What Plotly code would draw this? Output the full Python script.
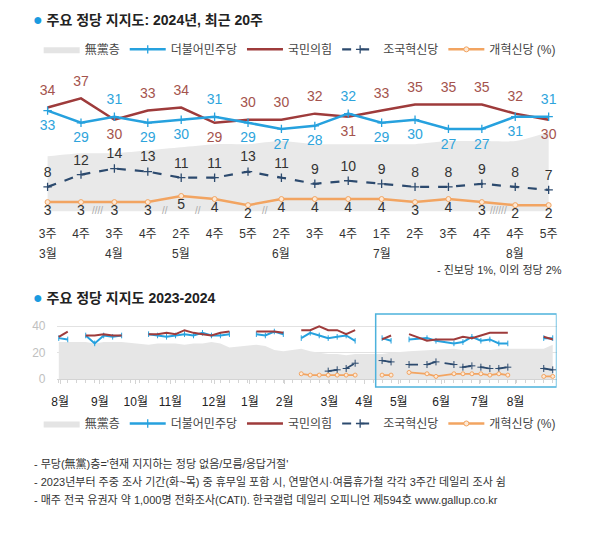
import plotly.graph_objects as go

# ---------------- DATA ----------------
# Top chart: recent survey weeks of 2024
week_labels = ["3주", "4주", "3주", "4주", "2주", "4주", "5주", "2주", "3주", "4주",
               "1주", "2주", "3주", "4주", "4주", "5주"]
week_dates = ["2024-03-20", "2024-03-27", "2024-04-17", "2024-04-24", "2024-05-08",
              "2024-05-22", "2024-05-29", "2024-06-12", "2024-06-19", "2024-06-26",
              "2024-07-03", "2024-07-10", "2024-07-17", "2024-07-24", "2024-08-21",
              "2024-08-28"]
recent_seg = [4, 4, 5, 5, 6, 6, 6, 6, 6, 6, 6, 6, 6, 6, 7, 7]
month_names = ["3월", "4월", "5월", "6월", "7월", "8월"]
month_first_idx = [0, 2, 4, 7, 10, 14]
dp = [33, 29, 31, 29, 30, 31, 29, 27, 28, 32, 29, 30, 27, 27, 31, 31]
ppp = [34, 37, 30, 33, 34, 29, 30, 30, 32, 31, 33, 35, 35, 35, 32, 30]
cho = [8, 12, 14, 13, 11, 11, 13, 11, 9, 10, 9, 8, 8, 9, 8, 7]
reform = [3, 3, 3, 3, 5, 4, 2, 4, 4, 4, 4, 3, 4, 3, 2, 2]
indep = [18, 19, 19, 20, 21, 22, 22, 23, 22, 22, 22, 22, 23, 23, 23, 26]
break_marks = ["////", "//", "//", "//", "//////"]
break_after = [1, 3, 4, 6, 13]

# Bottom chart: earlier weeks (2023-08 .. 2024-03)
early_dates = ["2023-08-09", "2023-08-16",
               "2023-08-30", "2023-09-06", "2023-09-13", "2023-09-20", "2023-09-27",
               "2023-10-18", "2023-10-25", "2023-11-01", "2023-11-08", "2023-11-15",
               "2023-11-22", "2023-11-29", "2023-12-06", "2023-12-13", "2023-12-20",
               "2024-01-10", "2024-01-17", "2024-01-24", "2024-01-31",
               "2024-02-14", "2024-02-21", "2024-02-28", "2024-03-06", "2024-03-13"]
early_seg = [0, 0, 1, 1, 1, 1, 1, 2, 2, 2, 2, 2, 2, 2, 2, 2, 2, 3, 3, 3, 3, 4, 4, 4, 4, 4]
dp_early = [31, 30, 33, 27, 33, 32, 33, 34, 33, 32, 33, 34, 33, 35, 33, 33, 34,
            34, 33, 36, 34, 31, 35, 33, 31, 32]
ppp_early = [32, 36, 33, 33, 34, 33, 33, 34, 34, 35, 34, 37, 35, 34, 33, 35, 36,
             36, 36, 36, 35, 37, 37, 40, 37, 37]
cho_early = [None] * 24 + [6, 7]
reform_early = [None] * 21 + [4, 3, 3, 3, 3]
indep_early = [28, 28, 28, 27, 28, 28, 28, 26, 27, 27, 27, 26, 27, 27, 28, 27, 24,
               26, 25, 22, 21, 23, 21, 20, 19, 19]

bottom_months = ["8월", "9월", "10월", "11월", "12월", "1월", "2월", "3월", "4월",
                 "5월", "6월", "7월", "8월"]
bottom_month_pos = ["2023-08-10", "2023-09-10", "2023-10-08", "2023-11-04",
                    "2023-12-08", "2024-01-05", "2024-02-01", "2024-03-07",
                    "2024-04-03", "2024-04-30", "2024-06-02", "2024-07-02",
                    "2024-07-30"]

names = ["無黨층", "더불어민주당", "국민의힘", "조국혁신당", "개혁신당 (%)"]

# ---------------- STYLE ----------------
C_DP = "#26a1de"
C_PPP = "#9e3b3b"
C_CHO = "#2c4a6e"
C_REF = "#f2a461"
C_GRAY = "#e9e9e9"
W, H = 615, 544
FONT = "Liberation Sans, Noto Sans CJK KR, sans-serif"


def px(v):
    return 1 - v / H


def pxx(v):
    return v / W


def with_gaps(dates, vals, segs):
    xs, ys = [], []
    for i, (d, v, s) in enumerate(zip(dates, vals, segs)):
        if i > 0 and s != segs[i - 1]:
            xs.append(None)
            ys.append(None)
        xs.append(d)
        ys.append(v)
    return xs, ys


fig = go.Figure()
idx = list(range(len(week_labels)))

# ---- top chart ----
fig.add_trace(go.Scatter(x=idx, y=indep, name=names[0], mode="lines",
                         line=dict(width=0, shape="spline", smoothing=0.6),
                         fill="tozeroy", fillcolor=C_GRAY, hoverinfo="skip",
                         showlegend=False, xaxis="x", yaxis="y"))
fig.add_trace(go.Scatter(x=idx, y=ppp, mode="lines", line=dict(color=C_PPP, width=2.5),
                         showlegend=False, hoverinfo="skip", xaxis="x", yaxis="y"))
fig.add_trace(go.Scatter(x=idx, y=dp, mode="lines+markers",
                         line=dict(color=C_DP, width=2.5),
                         marker=dict(symbol="cross-thin", size=6,
                                     line=dict(color=C_DP, width=1.3)),
                         showlegend=False, hoverinfo="skip", xaxis="x", yaxis="y"))
fig.add_trace(go.Scatter(x=idx, y=cho, mode="lines+markers",
                         line=dict(color=C_CHO, width=2.2, dash="dash"),
                         marker=dict(symbol="cross-thin", size=6,
                                     line=dict(color=C_CHO, width=1.3)),
                         showlegend=False, hoverinfo="skip", xaxis="x", yaxis="y"))
fig.add_trace(go.Scatter(x=idx, y=reform, mode="lines+markers",
                         line=dict(color=C_REF, width=2.5),
                         marker=dict(symbol="circle", size=5, color="#fde9d6",
                                     line=dict(color=C_REF, width=1)),
                         showlegend=False, hoverinfo="skip", xaxis="x", yaxis="y"))

# value labels (transparent markers set the gap between point and text)
dp_pos = ["top center" if a > b else "bottom center" for a, b in zip(dp, ppp)]
ppp_pos = ["bottom center" if a > b else "top center" for a, b in zip(dp, ppp)]
label_sets = [
    (ppp, ppp_pos, "#a4534d", 13),
    (dp, dp_pos, "#2ea4dc", 13),
    (cho, "top center", "#333333", 9),
    (reform, "bottom center", "#333333", 2),
]
for vals, pos, col, gap in label_sets:
    fig.add_trace(go.Scatter(x=idx, y=vals, mode="markers+text",
                             marker=dict(size=gap, color="rgba(0,0,0,0)"),
                             text=[str(v) for v in vals], textposition=pos,
                             textfont=dict(color=col, size=14), cliponaxis=False,
                             showlegend=False, hoverinfo="skip", xaxis="x", yaxis="y"))

# legend entries (one set per chart)
leg_styles = [
    dict(mode="lines", line=dict(width=0), fill="toself", fillcolor="#e4e4e4"),
    dict(mode="lines+markers", line=dict(color=C_DP, width=2.5),
         marker=dict(symbol="line-ns", size=6, line=dict(color=C_DP, width=1.3))),
    dict(mode="lines", line=dict(color=C_PPP, width=2.5)),
    dict(mode="lines+markers", line=dict(color=C_CHO, width=2.2, dash="dash"),
         marker=dict(symbol="cross-thin", size=6, line=dict(color=C_CHO, width=1.3))),
    dict(mode="lines+markers", line=dict(color=C_REF, width=2.5),
         marker=dict(symbol="circle", size=5, color="#fde9d6",
                     line=dict(color=C_REF, width=1))),
]
for lg, ax in (("legend", ("x", "y")), ("legend2", ("x2", "y2"))):
    for n, st in zip(names, leg_styles):
        fig.add_trace(go.Scatter(x=[None], y=[None], name=n, legend=lg,
                                 xaxis=ax[0], yaxis=ax[1], hoverinfo="skip", **st))

# ---- bottom chart ----
all_dates = early_dates + week_dates
all_seg = early_seg + recent_seg
series = [
    (indep_early + indep, dict(mode="lines", line=dict(width=0),
                               fill="tozeroy", fillcolor="#e6e6e6")),
    (dp_early + dp, dict(mode="lines+markers", line=dict(color=C_DP, width=2),
                         marker=dict(symbol="line-ns", size=4,
                                     line=dict(color=C_DP, width=1)))),
    (ppp_early + ppp, dict(mode="lines", line=dict(color=C_PPP, width=2))),
    (cho_early + cho, dict(mode="lines+markers",
                           line=dict(color=C_CHO, width=1.8, dash="dash"),
                           marker=dict(symbol="cross-thin", size=5,
                                       line=dict(color=C_CHO, width=1)))),
    (reform_early + reform, dict(mode="lines+markers",
                                 line=dict(color=C_REF, width=1.8),
                                 marker=dict(symbol="circle", size=4, color="#fde9d6",
                                             line=dict(color=C_REF, width=1)))),
]
for (vals, st), n in zip(series, names):
    xs, ys = with_gaps(all_dates, vals, all_seg)
    fig.add_trace(go.Scatter(x=xs, y=ys, name=n, showlegend=False, connectgaps=False,
                             xaxis="x2", yaxis="y2", hoverinfo="skip", **st))

# ---------------- LAYOUT ----------------
ann = []
ann.append(dict(text="<b><span style='color:#1a9be0;font-size:16px'>●</span> 주요 정당 지지도: 2024년, 최근 20주</b>",
                x=pxx(25), y=px(20), xref="paper", yref="paper", xanchor="left",
                yanchor="middle", showarrow=False, font=dict(size=14, color="#222")))
for m, i in zip(month_names, month_first_idx):
    ann.append(dict(text=m, x=i, y=px(257), xref="x", yref="paper", showarrow=False,
                    yanchor="middle", font=dict(size=12, color="#333")))
for t, i in zip(break_marks, break_after):
    ann.append(dict(text=t, x=i + 0.5, y=px(213), xref="x", yref="paper",
                    showarrow=False, yanchor="middle",
                    font=dict(size=10, color="#aaaaaa")))
ann.append(dict(text="- 진보당 1%, 이외 정당 2%", x=pxx(563), y=px(274), xref="paper",
                yref="paper", xanchor="right", yanchor="middle", showarrow=False,
                font=dict(size=11, color="#333")))
ann.append(dict(text="<b><span style='color:#1a9be0;font-size:16px'>●</span> 주요 정당 지지도 2023-2024</b>",
                x=pxx(25), y=px(301), xref="paper", yref="paper", xanchor="left",
                yanchor="middle", showarrow=False, font=dict(size=14, color="#222")))
notes = ["- 무당(無黨)층='현재 지지하는 정당 없음/모름/응답거절'",
         "- 2023년부터 주중 조사 기간(화~목) 중 휴무일 포함 시, 연말연시·여름휴가철 각각 3주간 데일리 조사 쉼",
         "- 매주 전국 유권자 약 1,000명 전화조사(CATI). 한국갤럽 데일리 오피니언 제594호 www.gallup.co.kr"]
for k, t in enumerate(notes):
    ann.append(dict(text=t, x=pxx(26), y=px(470 + 18 * k), xref="paper", yref="paper",
                    xanchor="left", yanchor="middle", showarrow=False,
                    font=dict(size=11, color="#333")))

top_y0 = 214
unit = 3.09
fig.update_layout(
    width=W, height=H, autosize=False,
    margin=dict(l=0, r=0, t=0, b=0),
    paper_bgcolor="white", plot_bgcolor="rgba(0,0,0,0)",
    font=dict(family=FONT, size=12, color="#333"),
    annotations=ann,
    xaxis=dict(domain=[pxx(28), pxx(562)], range=[-0.415, len(idx) - 1 + 0.415],
               tickvals=idx, ticktext=week_labels, showgrid=False, zeroline=False,
               showline=False, ticks="", tickfont=dict(size=12, color="#333"),
               ticklabelstandoff=6, anchor="y"),
    yaxis=dict(domain=[px(222), px(88)],
               range=[-(222 - top_y0) / unit, (top_y0 - 88) / unit],
               visible=False, anchor="x"),
    xaxis2=dict(type="date", domain=[pxx(52), pxx(556)],
                range=["2023-08-08", "2024-08-31"], tickvals=bottom_month_pos,
                ticktext=bottom_months, showgrid=False, zeroline=False,
                showline=True, linecolor="#d4d4d4", linewidth=1,
                ticks="outside", ticklen=4, tickcolor="#d4d4d4",
                minor=dict(ticks="outside", ticklen=3, tickcolor="#d4d4d4",
                           dtick=7 * 86400000, tick0="2023-08-09", showgrid=False),
                tickfont=dict(size=12, color="#222"), ticklabelstandoff=8,
                anchor="y2"),
    yaxis2=dict(domain=[px(384), px(322)], range=[0, (384 - 322) / 1.3375],
                tickvals=[0, 20, 40], showgrid=True, gridcolor="#e2e2e2",
                zeroline=False, tickfont=dict(size=12, color="#c0c0c0"),
                anchor="x2", ticklabelstandoff=11),
    legend=dict(orientation="h", x=pxx(33), y=px(50), xanchor="left",
                yanchor="middle", font=dict(size=12, color="#444"),
                itemwidth=36, bgcolor="rgba(0,0,0,0)"),
    legend2=dict(orientation="h", x=pxx(33), y=px(429), xanchor="left",
                 yanchor="middle", font=dict(size=12, color="#444"),
                 itemwidth=36, bgcolor="rgba(0,0,0,0)"),
    shapes=[dict(type="rect", xref="x2", yref="paper", x0="2024-04-12",
                 x1="2024-08-31", y0=px(392), y1=px(318),
                 line=dict(color="#4db2dc", width=1.5), fillcolor="rgba(0,0,0,0)")],
    showlegend=True,
)

fig.write_html("out.html", config={"displayModeBar": False},
               post_script="document.body.style.margin='0';")
